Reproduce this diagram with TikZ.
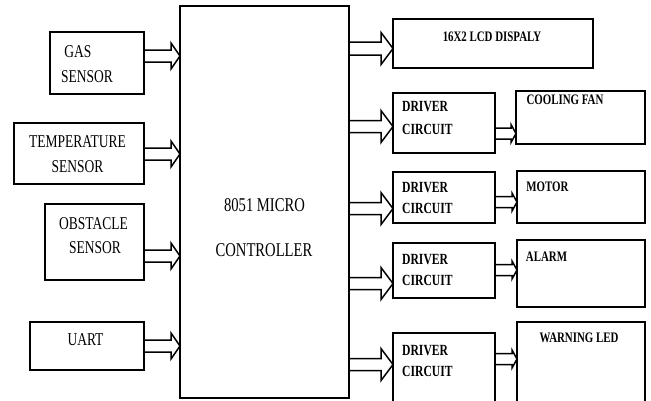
\documentclass[tikz,border=0pt]{standalone}
\usepackage{fontspec}
\setmainfont{Liberation Serif}[FakeStretch=0.75]
\usetikzlibrary{calc}
\newcommand{\dblarrow}[6]{%
  \draw[arrowline] let \p1=(#1), \p2=(#2) in
    (\x1,\y1+#3) -- (\x2-#5,\y1+#3) -- (\x2-#5,\y1+#4) -- (\x2,\y1)
    -- (\x2-#5,\y1-#4) -- (\x2-#5,\y1-#3) -- (\x1,\y1-#3);}
\begin{document}
\begin{tikzpicture}[x=1pt,y=-1pt,
  box/.style={draw, line width=1.8pt, inner sep=0pt, outer sep=0pt},
  arrowline/.style={draw, line width=1.5pt, line join=miter},
  ltxt/.style={inner sep=0pt, font=\fontsize{18}{18}\selectfont},
  mtxt/.style={inner sep=0pt, font=\fontsize{19.5}{19.5}\selectfont},
  rtxt/.style={inner sep=0pt, font=\fontsize{14.5}{14.5}\selectfont\bfseries},
  dtxt/.style={inner sep=0pt, anchor=west, font=\fontsize{15.5}{15.5}\selectfont\bfseries}]
\useasboundingbox (0,0) rectangle (651,400);
\clip (0,0) rectangle (651,400);
\fill[white] (0,0) rectangle (651,400);
% left boxes
\node[box, minimum width=94pt, minimum height=62pt] (gas) at (97,63) {};
\node[box, minimum width=130pt, minimum height=61pt] (temp) at (79,153.5) {};
\node[box, minimum width=99pt, minimum height=76pt] (obst) at (94.5,242) {};
\node[box, minimum width=114pt, minimum height=48pt] (uart) at (87,346) {};
% microcontroller
\node[box, minimum width=169pt, minimum height=392pt] (mcu) at (264.5,202) {};
% right boxes
\node[box, minimum width=200pt, minimum height=49pt] (lcd) at (493,43.5) {};
\node[box, minimum width=102pt, minimum height=60pt] (drv1) at (444,123) {};
\node[box, minimum width=129pt, minimum height=53pt] (fan) at (580.5,117.5) {};
\node[box, minimum width=102pt, minimum height=51pt] (drv2) at (444,197.5) {};
\node[box, minimum width=128pt, minimum height=52pt] (motor) at (581,197) {};
\node[box, minimum width=102pt, minimum height=55pt] (drv3) at (444,270.5) {};
\node[box, minimum width=128pt, minimum height=67pt] (alarm) at (581,273.5) {};
\node[box, minimum width=102pt, minimum height=77pt] (drv4) at (444,371.5) {};
\node[box, minimum width=128pt, minimum height=88pt] (led) at (581,366) {};
% texts
\node[ltxt] (t1a) at (78,52) {GAS};
\node[ltxt] (t1b) at (87,77) {SENSOR};
\node[ltxt] (t2a) at (77.5,142) {TEMPERATURE};
\node[ltxt] (t2b) at (77.5,167) {SENSOR};
\node[ltxt] (t3a) at (93.5,224) {OBSTACLE};
\node[ltxt] (t3b) at (95,248) {SENSOR};
\node[ltxt] (t4) at (85.5,340) {UART};
\node[mtxt] (m1) at (264.5,205) {8051 MICRO};
\node[mtxt] (m2) at (264,250) {CONTROLLER};
\node[rtxt] (r0) at (492,37) {16X2 LCD DISPALY};
\node[dtxt] (d1a) at (402,107) {DRIVER};
\node[dtxt] (d1b) at (402,129) {CIRCUIT};
\node[dtxt] (d2a) at (402,188) {DRIVER};
\node[dtxt] (d2b) at (402,208) {CIRCUIT};
\node[dtxt] (d3a) at (402,260) {DRIVER};
\node[dtxt] (d3b) at (402,280) {CIRCUIT};
\node[dtxt] (d4a) at (402,351) {DRIVER};
\node[dtxt] (d4b) at (402,371) {CIRCUIT};
\node[rtxt] (r1) at (565,100) {COOLING FAN};
\node[rtxt] (r2) at (547.5,187) {MOTOR};
\node[rtxt] (r3) at (546.5,257) {ALARM};
\node[rtxt] (r4) at (579,338) {WARNING LED};
% arrow levels
\coordinate (yA) at (0,56);
\coordinate (yB) at (0,154);
\coordinate (yC) at (0,256);
\coordinate (yD) at (0,346);
\coordinate (yL) at (0,48.5);
\coordinate (y1) at (0,126.5);
\coordinate (y2) at (0,208.5);
\coordinate (y3) at (0,283.5);
\coordinate (y4) at (0,364.5);
\coordinate (s1) at (0,133.5);
\coordinate (s2) at (0,202);
\coordinate (s3) at (0,270);
\coordinate (s4) at (0,359);
% left arrows
\dblarrow{gas.east |- yA}{mcu.west |- yA}{6}{13}{9}{}
\dblarrow{temp.east |- yB}{mcu.west |- yB}{6}{13}{9}{}
\dblarrow{obst.east |- yC}{mcu.west |- yC}{6}{13}{9}{}
\dblarrow{uart.east |- yD}{mcu.west |- yD}{6}{13}{9}{}
% right arrows
\dblarrow{mcu.east |- yL}{lcd.west |- yL}{6.5}{16}{12}{}
\dblarrow{mcu.east |- y1}{drv1.west |- y1}{6}{16}{12}{}
\dblarrow{mcu.east |- y2}{drv2.west |- y2}{6}{16}{12}{}
\dblarrow{mcu.east |- y3}{drv3.west |- y3}{6}{16}{12}{}
\dblarrow{mcu.east |- y4}{drv4.west |- y4}{6}{16}{12}{}
% small arrows
\dblarrow{drv1.east |- s1}{fan.west |- s1}{5.5}{9}{5}{}
\dblarrow{drv2.east |- s2}{motor.west |- s2}{5.5}{9}{5}{}
\dblarrow{drv3.east |- s3}{alarm.west |- s3}{5.5}{9}{5}{}
\dblarrow{drv4.east |- s4}{led.west |- s4}{5.5}{9}{5}{}
\end{tikzpicture}
\end{document}
